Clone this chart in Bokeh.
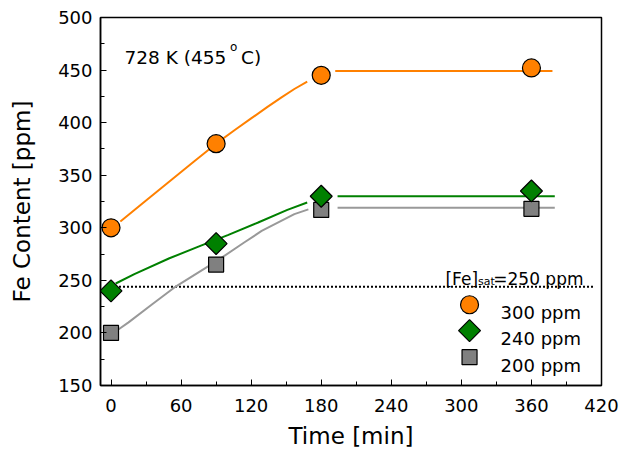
import math
from bokeh.plotting import figure
from bokeh.models import SingleIntervalTicker
from bokeh.core.properties import value
from bokeh.embed import file_html
from bokeh.resources import INLINE

# ---- data ----
time_pts = [0, 90, 180, 360]
fe_300 = [300, 380, 445, 452]
fe_240 = [240, 285, 330, 335]
fe_200 = [200, 265, 317, 318]

# fitted curves
fit300_t = [8, 30, 50, 70, 90, 106, 120, 134, 146, 157, 168]
fit300_v = [306, 326, 344, 362, 380, 393, 404, 415, 424, 432, 439]
flat300_t = [192, 378]
flat300_v = [449, 449]

fit240_t = [4, 20, 50, 77, 100, 126, 151, 168]
fit240_v = [247, 256, 271, 283, 293, 305, 317, 324]
flat240_t = [194, 380]
flat240_v = [330, 330]

fit200_t = [6, 15, 35, 54, 90, 114, 129, 157, 169]
fit200_v = [203, 210, 227, 243, 268, 286, 297, 313, 317.5]
flat200_t = [194, 380]
flat200_v = [319, 319]

sat_t = [0, 414]
sat_v = [244, 244]

series_labels = ["300 ppm", "240 ppm", "200 ppm"]
x_ticks_interval = 60
y_ticks_interval = 50

FONT = "DejaVu Sans"
ORANGE = "#FF8000"
GREEN = "#008000"
GRAY = "#808080"
GRAY_LINE = "#999999"

p = figure(width=620, height=456, x_range=(-9, 420), y_range=(150, 500),
           output_backend="svg", toolbar_location=None,
           min_border_left=100, min_border_right=19, min_border_top=17,
           min_border_bottom=71)
p.background_fill_color = "white"
p.border_fill_color = "white"
p.outline_line_color = "black"
p.outline_line_width = 1.5
p.xgrid.visible = False
p.ygrid.visible = False

p.xaxis.ticker = SingleIntervalTicker(interval=x_ticks_interval, num_minor_ticks=2)
p.yaxis.ticker = SingleIntervalTicker(interval=y_ticks_interval, num_minor_ticks=2)
for ax in (p.xaxis, p.yaxis):
    ax.axis_line_color = "black"
    ax.axis_line_width = 1.5
    ax.major_tick_in = 6
    ax.major_tick_out = 0
    ax.minor_tick_in = 4
    ax.minor_tick_out = 0
    ax.major_tick_line_color = "black"
    ax.minor_tick_line_color = "black"
    ax.major_label_text_font = FONT
    ax.major_label_text_font_size = "18px"
    ax.major_label_text_color = "black"
    ax.axis_label_text_font = FONT
    ax.axis_label_text_font_size = "23px"
    ax.axis_label_text_font_style = "normal"
    ax.axis_label_text_color = "black"
p.xaxis.axis_label = "Time [min]"
p.yaxis.axis_label = "Fe Content [ppm]"
p.xaxis.major_label_standoff = 13
p.yaxis.major_label_standoff = 8
p.xaxis.axis_label_standoff = 8
p.yaxis.axis_label_standoff = 20

# saturation line
p.line(sat_t, sat_v, line_color="black", line_width=2, line_dash="2 2")

# fitted curves
p.line(fit300_t, fit300_v, line_color=ORANGE, line_width=2)
p.line(flat300_t, flat300_v, line_color=ORANGE, line_width=2)
p.line(fit240_t, fit240_v, line_color=GREEN, line_width=2)
p.line(flat240_t, flat240_v, line_color=GREEN, line_width=2)
p.line(fit200_t, fit200_v, line_color=GRAY_LINE, line_width=2)
p.line(flat200_t, flat200_v, line_color=GRAY_LINE, line_width=2)

# markers
p.scatter(time_pts, fe_200, marker="square", size=15, fill_color=GRAY,
          line_color="black", line_width=1.2)
p.scatter(time_pts, fe_240, marker="square", size=15.5, angle=math.pi / 4,
          fill_color=GREEN, line_color="black", line_width=1.2)
p.scatter(time_pts, fe_300, marker="circle", size=18, fill_color=ORANGE,
          line_color="black", line_width=1.2)

# ---- annotations ----
def txt(x, y, s, size, align="left"):
    p.text(x=[x], y=[y], text=[s], text_font=value(FONT),
           text_font_size=size, text_color="black", text_align=align,
           text_baseline="alphabetic")

txt(11.6, 462.3, "728 K (455", "18.5px")
txt(101.9, 472.4, "o", "12px")
txt(111.3, 462.3, "C)", "18.5px")

txt(286.4, 251.5, "[Fe]", "17px")
txt(314.3, 249.0, "sat", "11px")
txt(404.6, 251.5, "=250 ppm", "17px", align="right")

# legend (drawn by hand)
leg_x = [307]
leg_y = [226.8, 202.2, 176.9]
p.scatter(leg_x, [leg_y[0]], marker="circle", size=18, fill_color=ORANGE,
          line_color="black", line_width=1.2)
p.scatter(leg_x, [leg_y[1]], marker="square", size=15.5, angle=math.pi / 4,
          fill_color=GREEN, line_color="black", line_width=1.2)
p.scatter(leg_x, [leg_y[2]], marker="square", size=15, fill_color=GRAY,
          line_color="black", line_width=1.2)
lab_y = [219.7, 194.4, 169.0]
for s, yy in zip(series_labels, lab_y):
    txt(333.6, yy, s, "18px")

open("out.html", "w").write(file_html(p, INLINE))
